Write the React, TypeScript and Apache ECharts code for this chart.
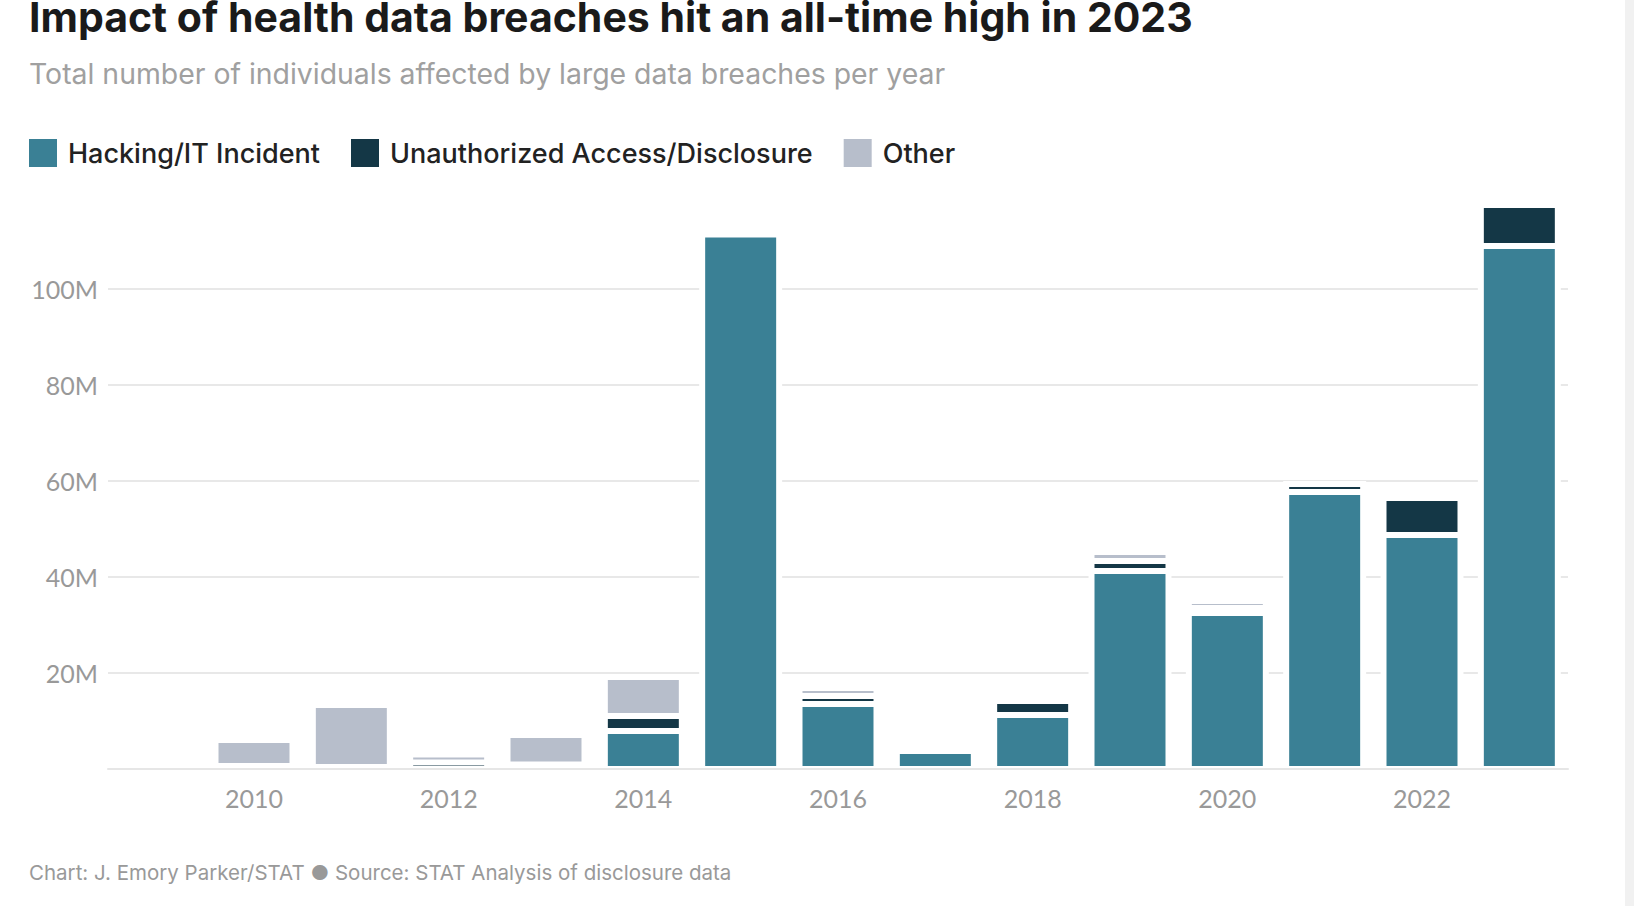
import React, { useEffect, useRef } from "react";
import * as echarts from "echarts";

const years = ["2009", "2010", "2011", "2012", "2013", "2014", "2015", "2016", "2017", "2018", "2019", "2020", "2021", "2022", "2023"];
// values in millions of individuals affected
const hacking = [0, 0, 0, 0, 0, 7.92, 111.35, 13.54, 3.75, 11.25, 41.25, 32.5, 57.7, 48.75, 108.96];
const unauthorized = [0, 0.6, 0.4, 1.35, 0.94, 3.13, 0, 1.67, 0, 2.92, 2.08, 1.04, 1.67, 7.71, 8.54];
const other = [0, 5.44, 12.93, 1.67, 6.15, 8.13, 0, 1.67, 0, 0, 1.88, 1.46, 0, 0, 0];
const yTicks = [0, 20, 40, 60, 80, 100, 120];

const seriesNames = ["Hacking/IT Incident", "Unauthorized Access/Disclosure", "Other"];
const seriesColors = ["#3a8095", "#143746", "#b7becb"];

const FONT = "Lato, 'Noto Sans', sans-serif";
const TFONT = "Inter, 'Noto Sans', sans-serif";

export default function App() {
  const ref = useRef<HTMLDivElement>(null);
  useEffect(() => {
    if (!ref.current) return;
    const chart = echarts.init(ref.current, undefined, { renderer: "svg" });
    const stacks = [hacking, unauthorized, other];
    const cum = years.map(() => 0);
    const seriesData = stacks.map((arr) =>
      arr.map((v, i) => {
        const lo = cum[i];
        const hi = lo + v;
        cum[i] = hi;
        return [i, lo, hi];
      })
    );
    const renderSeg = (params: any, api: any) => {
      const xi = api.value(0);
      const lo = api.value(1);
      const hi = api.value(2);
      if (!(hi - lo > 0)) return null;
      const pLo = api.coord([xi, lo]);
      const pHi = api.coord([xi, hi]);
      const bw = api.size([1, 0])[0] * 0.791;
      const x0 = pLo[0] - bw / 2;
      const top = pHi[1];
      const bottom = pLo[1];
      const children: any[] = [
        {
          type: "rect",
          z2: 0,
          shape: { x: x0 - 3, y: top - 3, width: bw + 6, height: bottom - top + 6 },
          style: { fill: "#ffffff" },
        },
      ];
      const fh = bottom - top - 6;
      if (fh > 0.4) {
        children.push({
          type: "rect",
          z2: 10,
          shape: { x: x0 + 3, y: top + 3, width: bw - 6, height: fh },
          style: { fill: api.visual("color") },
        });
      }
      return { type: "group", children };
    };
    chart.setOption({
      animation: false,
      textStyle: { fontFamily: FONT },
      legend: {
        left: 29,
        top: 139,
        padding: 0,
        icon: "rect",
        itemWidth: 28,
        itemHeight: 28,
        itemGap: 31,
        selectedMode: false,
        data: seriesNames,
        textStyle: { fontFamily: TFONT, fontSize: 27, fontWeight: 500, color: "#222222", padding: [0, 0, 0, 6] },
      },
      grid: { left: 108, right: 66, top: 193, bottom: 137, containLabel: false, outerBoundsMode: "none" },
      xAxis: {
        type: "category",
        data: years,
        z: 10,
        boundaryGap: true,
        axisTick: { show: false },
        axisLine: { show: true, lineStyle: { color: "#e6e6e6", width: 2 } },
        axisLabel: {
          interval: (index: number) => index % 2 === 1,
          color: "#999999",
          fontSize: 25,
          fontFamily: FONT,
          margin: 16,
        },
        splitLine: { show: false },
      },
      yAxis: {
        type: "value",
        min: yTicks[0],
        max: yTicks[yTicks.length - 1],
        interval: 20,
        axisLine: { show: false },
        axisTick: { show: false },
        axisLabel: {
          color: "#999999",
          fontSize: 25,
          fontFamily: FONT,
          margin: 10,
          showMinLabel: false,
          showMaxLabel: false,
          formatter: (v: number) => (v === 0 ? "" : v + "M"),
        },
        splitLine: { show: true, showMinLine: false, showMaxLine: false, lineStyle: { color: "#e8e8e8", width: 2 } },
      },
      series: seriesNames.map((name, k) => ({
        type: "custom",
        name,
        itemStyle: { color: seriesColors[k] },
        encode: { x: 0, y: [1, 2] },
        renderItem: renderSeg,
        data: seriesData[k],
      })),
      graphic: [
        {
          type: "text",
          left: 29,
          top: -4,
          style: {
            text: "Impact of health data breaches hit an all-time high in 2023",
            font: `700 41px ${TFONT}`,
            fill: "#1a1a1a",
          },
        },
        {
          type: "text",
          left: 29,
          top: 59,
          style: {
            text: "Total number of individuals affected by large data breaches per year",
            font: `400 28.4px ${TFONT}`,
            fill: "#a0a0a0",
          },
        },
        {
          type: "text",
          left: 29,
          top: 862,
          style: {
            text: "Chart: J. Emory Parker/STAT ● Source: STAT Analysis of disclosure data",
            font: `400 20.5px ${TFONT}`,
            fill: "#999999",
          },
        },
        {
          type: "rect",
          shape: { x: 1625, y: 0, width: 9, height: 906 },
          style: { fill: "#f1f1f1" },
        },
      ],
    });
    return () => chart.dispose();
  }, []);
  return (
    <div style={{ position: "fixed", left: 0, top: 0, width: 1634, height: 906, background: "#ffffff" }}>
      <div ref={ref} style={{ width: 1634, height: 906 }} />
    </div>
  );
}
